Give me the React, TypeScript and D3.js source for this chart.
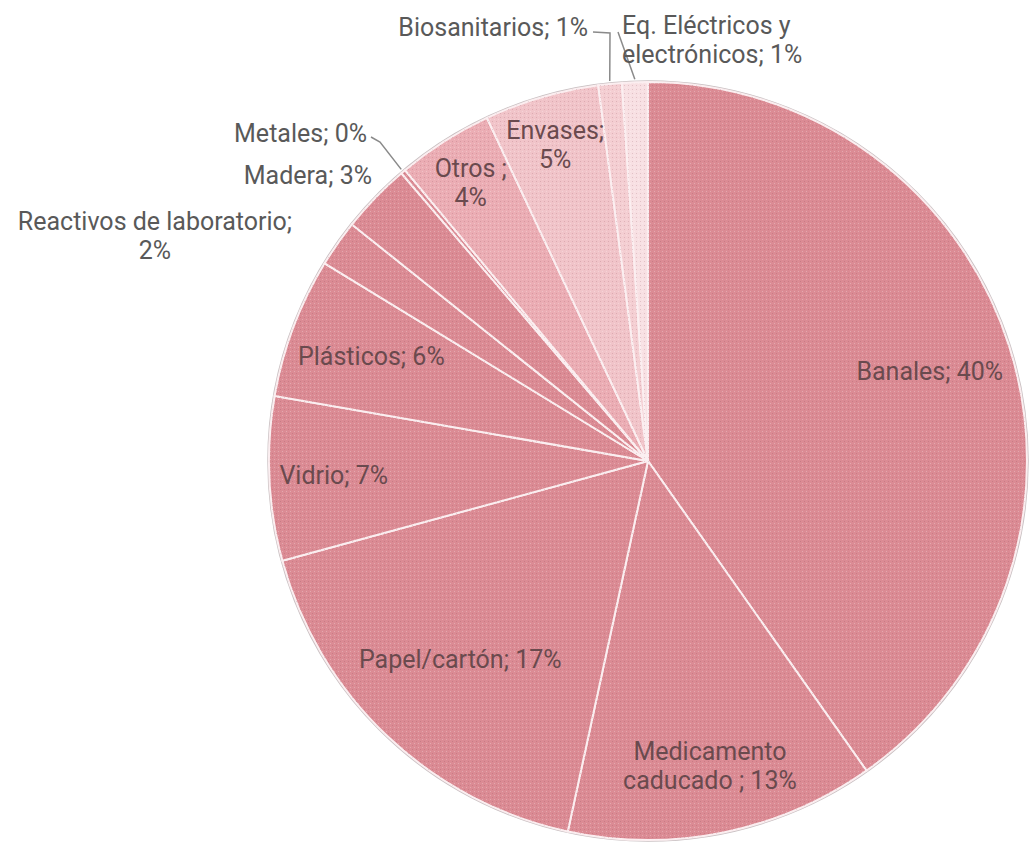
import React from "react";
import * as d3 from "d3";

// ---------- data ----------
const categories = [
  "Banales",
  "Medicamento caducado",
  "Papel/cartón",
  "Vidrio",
  "Plásticos",
  "Reactivos de laboratorio",
  "Madera",
  "Metales",
  "Otros",
  "Envases",
  "Biosanitarios",
  "Eq. Eléctricos y electrónicos",
];
const values = [40.3, 13.2, 17.4, 7.0, 6.0, 2.0, 3.0, 0.2, 4.1, 4.9, 1.0, 1.1];
const labelLines = [
  ["Banales; 40%"],
  ["Medicamento", "caducado ; 13%"],
  ["Papel/cartón; 17%"],
  ["Vidrio; 7%"],
  ["Plásticos; 6%"],
  ["Reactivos de laboratorio;", "2%"],
  ["Madera; 3%"],
  ["Metales; 0%"],
  ["Otros ;", "4%"],
  ["Envases;", "5%"],
  ["Biosanitarios; 1%"],
  ["Eq. Eléctricos y", "electrónicos; 1%"],
];
const sliceColors = [
  "#db8b94", "#db8b94", "#db8b94", "#db8b94", "#db8b94", "#db8b94",
  "#db8b94", "#db8b94", "#ebadb4", "#f1c4c9", "#f4ced2", "#f8e0e3",
];

// ---------- layout ----------
const W = 1033;
const H = 845;
const CX = 648;
const CY = 461;
const R = 379;
const FONT = "Roboto, 'Noto Sans', sans-serif";
const FS = 25;
const LH = 29;

// inside labels: radius fraction
const insideFrac: Record<number, number> = { 0: 0.78, 1: 0.82, 2: 0.72, 3: 0.83, 4: 0.78, 8: 0.87, 9: 0.87 };
// outside labels: anchor position + alignment + leader elbow
const outside: Record<number, { x: number; y: number; anchor: string; leader?: [number, number][] }> = {
  5: { x: 155, y: 221, anchor: "middle" },
  6: { x: 372, y: 175, anchor: "end" },
  7: { x: 367, y: 133, anchor: "end", leader: [[380, 142], [371, 137]] },
  10: { x: 588, y: 27, anchor: "end", leader: [[610, 33], [593, 32]] },
  11: { x: 622, y: 25, anchor: "start", leader: [[618, 32]] },
};

export default function App() {
  const pie = d3
    .pie<number>()
    .sort(null)
    .value((d) => d)
    .startAngle(0)
    .endAngle(2 * Math.PI);
  const arcs = pie(values);
  const arc = d3.arc<d3.PieArcDatum<number>>().innerRadius(0).outerRadius(R);
  const polar = (a: number, r: number): [number, number] => [CX + r * Math.sin(a), CY - r * Math.cos(a)];

  return (
    <svg
      width={W}
      height={H}
      style={{ position: "absolute", left: 0, top: 0, background: "#ffffff" }}
      fontFamily={FONT}
    >
      <defs>
        <pattern id="tex" width="4" height="4" patternUnits="userSpaceOnUse">
          <rect x="0" y="0" width="1" height="1" fill="#7a3040" opacity="0.18" />
          <rect x="2" y="2" width="1" height="1" fill="#ffffff" opacity="0.25" />
        </pattern>
      </defs>
      <circle cx={CX} cy={CY} r={R + 1} fill="none" stroke="#c9c0c2" strokeWidth={1.5} />
      <g transform={`translate(${CX},${CY})`}>
        {arcs.map((a, i) => (
          <path key={categories[i]} d={arc(a) || ""} fill={sliceColors[i]} stroke="#fbeef0" strokeWidth={2} />
        ))}
        {arcs.map((a, i) => (
          <path key={"t" + i} d={arc(a) || ""} fill="url(#tex)" stroke="none" />
        ))}
      </g>
      {arcs.map((a, i) => {
        const mid = (a.startAngle + a.endAngle) / 2;
        const lines = labelLines[i];
        if (insideFrac[i] !== undefined) {
          const [x, y] = polar(mid, R * insideFrac[i]);
          const y0 = y - ((lines.length - 1) * LH) / 2;
          return (
            <text key={"l" + i} x={x} textAnchor="middle" fontSize={FS} fill="#6a4a4e">
              {lines.map((t, k) => (
                <tspan key={k} x={x} y={y0 + k * LH} dominantBaseline="central">
                  {t}
                </tspan>
              ))}
            </text>
          );
        }
        const o = outside[i];
        if (!o) return null;
        const start = polar(mid, R + 3);
        const pts = o.leader ? [start, ...o.leader] : null;
        return (
          <g key={"l" + i}>
            {pts && (
              <polyline
                points={pts.map((p) => p.join(",")).join(" ")}
                fill="none"
                stroke="#8a8a8a"
                strokeWidth={1.5}
              />
            )}
            <text x={o.x} textAnchor={o.anchor as any} fontSize={FS} fill="#595959">
              {lines.map((t, k) => (
                <tspan key={k} x={o.x} y={o.y + k * LH} dominantBaseline="central">
                  {t}
                </tspan>
              ))}
            </text>
          </g>
        );
      })}
    </svg>
  );
}
